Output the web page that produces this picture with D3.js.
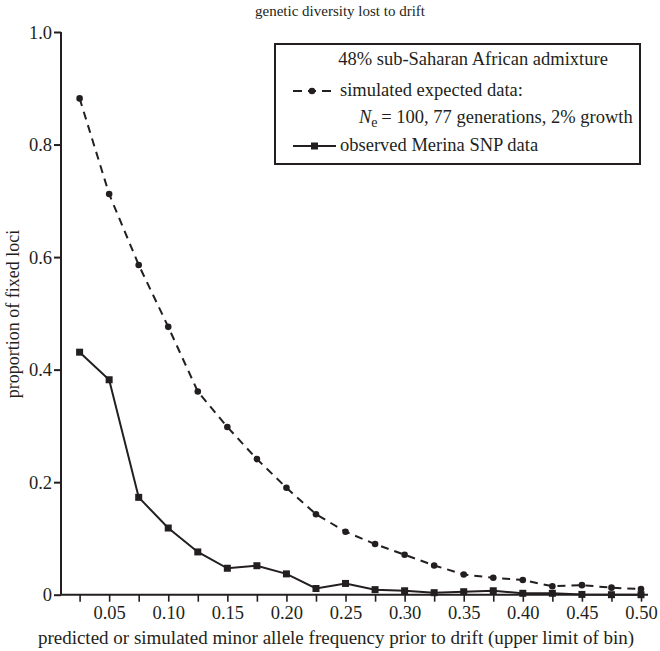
<!DOCTYPE html>
<html><head><meta charset="utf-8">
<script src="https://cdn.jsdelivr.net/npm/d3@7"></script>
<style>body{margin:0;background:#fff}svg{display:block}svg text{font-family:'Liberation Serif','Times New Roman',serif !important;fill:#231f20}</style>
</head><body>
<script>
const bins = [0.025,0.05,0.075,0.10,0.125,0.15,0.175,0.20,0.225,0.25,0.275,0.30,0.325,0.35,0.375,0.40,0.425,0.45,0.475,0.50];
const simulated = [0.882,0.712,0.586,0.476,0.361,0.298,0.241,0.190,0.143,0.112,0.090,0.071,0.052,0.036,0.030,0.026,0.015,0.017,0.0125,0.010];
const observed = [0.431,0.382,0.173,0.1185,0.076,0.047,0.0515,0.037,0.011,0.020,0.009,0.007,0.0036,0.0053,0.007,0.0025,0.0025,0.0005,0,0];
const xTickLabels = [0.05,0.10,0.15,0.20,0.25,0.30,0.35,0.40,0.45,0.50];
const yTicks = [0,0.2,0.4,0.6,0.8,1.0];

const W=660,H=651;
const FF="'Liberation Serif','Times New Roman',serif";
const svg=d3.select("body").append("svg").attr("width",W).attr("height",H).attr("font-family",FF);
const x=d3.scaleLinear().domain([0.025,0.5]).range([79.6,641]);
const y=d3.scaleLinear().domain([0,1]).range([594.7,32]);
const axisX0=61, axisX1=648;
const ink="#231f20";

// axes
const yAxis=svg.append("g").attr("transform",`translate(${axisX0},0)`)
  .call(d3.axisLeft(y).tickValues(yTicks).tickSize(7).tickSizeOuter(0).tickFormat(d=>d===0?"0":d3.format(".1f")(d)));
yAxis.attr("font-family",FF);
yAxis.select(".domain").attr("stroke",ink).attr("stroke-width",2);
yAxis.selectAll(".tick line").attr("stroke",ink).attr("stroke-width",2);
yAxis.selectAll(".tick text").attr("font-size",18.5).attr("x",-9).attr("dy","0.34em").attr("fill",ink);
yAxis.select(".domain").attr("d",`M0,${y(0)}V${y(1)}`);

const xAxis=svg.append("g").attr("transform",`translate(0,${y(0)})`)
  .call(d3.axisBottom(x).tickValues(bins).tickSize(7).tickSizeOuter(0)
    .tickFormat(d=>xTickLabels.some(v=>Math.abs(v-d)<1e-9)?d3.format(".2f")(d):""));
xAxis.attr("font-family",FF);
xAxis.select(".domain").attr("d",`M${axisX0},0H${axisX1}`).attr("stroke",ink).attr("stroke-width",2);
xAxis.selectAll(".tick line").attr("stroke",ink).attr("stroke-width",1.6);
xAxis.selectAll(".tick text").attr("font-size",18.5).attr("y",11).attr("dy","0.71em").attr("fill",ink);

// labels
svg.append("text").attr("x",340).attr("y",16).attr("text-anchor","middle").attr("font-size",15).text("genetic diversity lost to drift");
svg.append("text").attr("x",336).attr("y",644).attr("text-anchor","middle").attr("font-size",19).text("predicted or simulated minor allele frequency prior to drift (upper limit of bin)");
svg.append("text").attr("transform","translate(19,314) rotate(-90)").attr("text-anchor","middle").attr("font-size",18).text("proportion of fixed loci");

// lines
const line=d3.line().x((d,i)=>x(bins[i])).y(d=>y(d));
svg.append("path").datum(simulated).attr("d",line).attr("fill","none").attr("stroke",ink).attr("stroke-width",2).attr("stroke-dasharray","8,6");
svg.append("path").datum(observed).attr("d",line).attr("fill","none").attr("stroke",ink).attr("stroke-width",2);
svg.append("g").selectAll("circle").data(simulated).join("circle").attr("cx",(d,i)=>x(bins[i])).attr("cy",d=>y(d)).attr("r",3.3).attr("fill",ink);
svg.append("g").selectAll("rect").data(observed).join("rect").attr("x",(d,i)=>x(bins[i])-3.5).attr("y",d=>y(d)-3.5).attr("width",7).attr("height",7).attr("fill",ink);

// legend
const lg=svg.append("g");
lg.append("rect").attr("x",275).attr("y",44).attr("width",365).attr("height",120).attr("fill","#fff").attr("stroke",ink).attr("stroke-width",2);
lg.append("text").attr("x",473).attr("y",65).attr("text-anchor","middle").attr("font-size",18.5).text("48% sub-Saharan African admixture");
lg.append("line").attr("x1",293).attr("x2",335).attr("y1",91).attr("y2",91).attr("stroke",ink).attr("stroke-width",2).attr("stroke-dasharray","9,6,8,6,9,20");
lg.append("circle").attr("cx",312).attr("cy",91).attr("r",3.3).attr("fill",ink);
lg.append("text").attr("x",340).attr("y",96).attr("font-size",18.5).text("simulated expected data:");
const t3=lg.append("text").attr("x",359).attr("y",123).attr("font-size",18.5);
t3.append("tspan").attr("font-style","italic").text("N");
t3.append("tspan").attr("font-size",14).attr("dy",4).text("e");
t3.append("tspan").attr("dy",-4).text("\u2009= 100, 77 generations, 2% growth");
lg.append("line").attr("x1",293).attr("x2",336).attr("y1",146).attr("y2",146).attr("stroke",ink).attr("stroke-width",2);
lg.append("rect").attr("x",311).attr("y",142.5).attr("width",7).attr("height",7).attr("fill",ink);
lg.append("text").attr("x",340).attr("y",151).attr("font-size",18.5).text("observed Merina SNP data");
</script>
</body></html>
